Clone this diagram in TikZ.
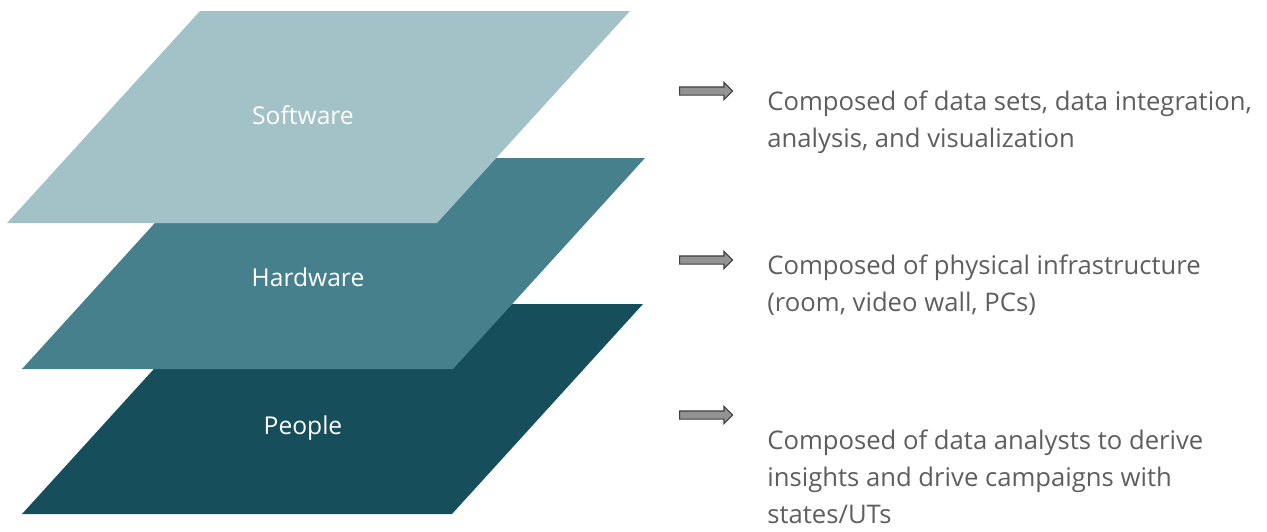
\documentclass[tikz,border=0pt]{standalone}
\usepackage{fontspec}
\setmainfont{Open Sans}
\usetikzlibrary{shapes.arrows}
\definecolor{softcol}{HTML}{A3C2C7}
\definecolor{hardcol}{HTML}{47808D}
\definecolor{peoplecol}{HTML}{164E5C}
\definecolor{txtgray}{HTML}{5E5E5E}
\tikzset{
  layerlabel/.style={text=white,font=\fontsize{14}{17}\selectfont,inner sep=0pt},
  blockarrow/.style={single arrow,draw=black!75,fill=gray!85,line width=0.6pt,
    inner xsep=0pt,inner ysep=0.07cm,minimum height=1.06cm,
    single arrow head extend=0.09cm,single arrow tip angle=90},
  desc/.style={text=txtgray,font=\fontsize{14.6}{21}\selectfont,align=left,anchor=west,inner sep=0pt}
}

\begin{document}
\begin{tikzpicture}[x=0.02cm,y=-0.02cm]
\useasboundingbox (0,0) rectangle (1267,531);
% the three layers, bottom one first
\fill[peoplecol] (213,304) -- (643,304) -- (452,514) -- (22,514) -- cycle;
\fill[hardcol] (214,158) -- (645,158) -- (453,369) -- (22,369) -- cycle;
\fill[softcol] (200,11) -- (630,11) -- (437,223) -- (7,223) -- cycle;
\node[layerlabel] (soft) at (303,115) {Software};
\node[layerlabel] (hard) at (308,277) {Hardware};
\node[layerlabel] (people) at (303,428) {People};
% arrows and descriptions
\node[blockarrow] (arr1) at (704,91) {};
\node[blockarrow] (arr2) at (704,260) {};
\node[blockarrow] (arr3) at (704,415) {};
\node[desc] (txt1) at (767,122) {Composed of data sets, data integration,\\analysis, and visualization};
\node[desc] (txt2) at (767,285) {Composed of physical infrastructure\\(room, video wall, PCs)};
\node[desc] (txt3) at (767,477) {Composed of data analysts to derive\\insights and drive campaigns with\\states/UTs};
\end{tikzpicture}
\end{document}
